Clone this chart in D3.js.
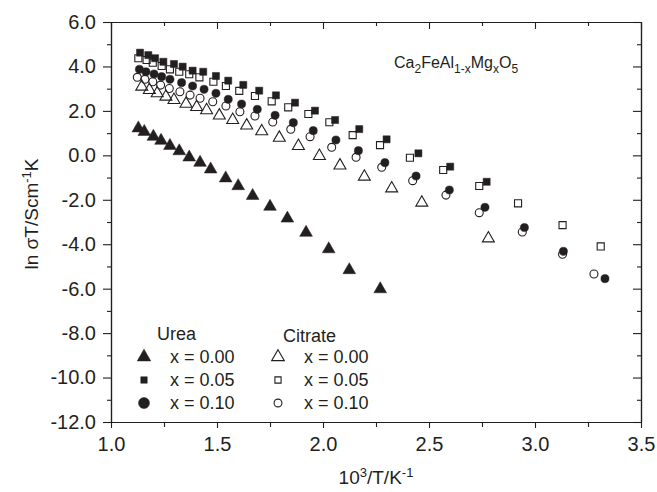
<!DOCTYPE html>
<html lang="en">
<head>
<meta charset="utf-8">
<script src="https://cdn.jsdelivr.net/npm/d3@7/dist/d3.min.js"></script>
<style>
  body { margin: 0; background: #fff; }
  text { font-family: "Liberation Sans", Arial, sans-serif; fill: #231f20; }
</style>
</head>
<body>
<div id="chart"></div>
<script>
// ---- data ----
var urea00_x = [1.129, 1.157, 1.200, 1.236, 1.278, 1.322, 1.369, 1.420, 1.470, 1.541, 1.600, 1.668, 1.750, 1.832, 1.920, 2.027, 2.124, 2.270];
var urea00_y = [1.22, 1.06, 0.84, 0.66, 0.43, 0.19, -0.09, -0.33, -0.63, -1.03, -1.38, -1.82, -2.31, -2.84, -3.48, -4.22, -5.16, -6.02];

var urea05_x = [1.137, 1.176, 1.208, 1.247, 1.297, 1.338, 1.385, 1.435, 1.495, 1.553, 1.624, 1.699, 1.778, 1.868, 1.962, 2.057, 2.171, 2.300, 2.450, 2.600, 2.772];
var urea05_y = [4.62, 4.51, 4.37, 4.21, 4.11, 3.99, 3.81, 3.76, 3.57, 3.36, 3.17, 2.91, 2.70, 2.37, 2.01, 1.59, 1.18, 0.72, 0.09, -0.51, -1.19];

var urea10_x = [1.134, 1.165, 1.203, 1.239, 1.278, 1.333, 1.385, 1.439, 1.495, 1.553, 1.616, 1.690, 1.774, 1.860, 1.954, 2.061, 2.167, 2.292, 2.439, 2.596, 2.764, 2.950, 3.134, 3.330];
var urea10_y = [3.87, 3.76, 3.66, 3.54, 3.42, 3.27, 3.12, 2.97, 2.79, 2.52, 2.31, 2.07, 1.80, 1.47, 1.11, 0.69, 0.21, -0.33, -0.93, -1.56, -2.34, -3.25, -4.32, -5.55];

var cit00_x = [1.145, 1.181, 1.218, 1.259, 1.297, 1.354, 1.404, 1.451, 1.511, 1.574, 1.640, 1.711, 1.794, 1.884, 1.983, 2.080, 2.195, 2.324, 2.466, 2.780];
var cit00_y = [3.09, 2.94, 2.79, 2.64, 2.49, 2.32, 2.17, 2.03, 1.79, 1.59, 1.34, 1.08, 0.79, 0.42, -0.03, -0.46, -0.96, -1.49, -2.13, -3.74];

var cit05_x = [1.129, 1.168, 1.197, 1.239, 1.278, 1.322, 1.369, 1.417, 1.483, 1.542, 1.605, 1.679, 1.758, 1.836, 1.931, 2.030, 2.140, 2.269, 2.410, 2.567, 2.737, 2.920, 3.130, 3.310];
var cit05_y = [4.37, 4.29, 4.17, 4.02, 3.87, 3.76, 3.65, 3.51, 3.31, 3.12, 2.90, 2.67, 2.43, 2.16, 1.86, 1.49, 0.91, 0.46, -0.11, -0.66, -1.38, -2.16, -3.14, -4.10];

var cit10_x = [1.124, 1.160, 1.197, 1.234, 1.275, 1.325, 1.373, 1.420, 1.480, 1.542, 1.608, 1.679, 1.763, 1.848, 1.939, 2.041, 2.156, 2.277, 2.423, 2.580, 2.737, 2.940, 3.130, 3.278];
var cit10_y = [3.51, 3.42, 3.31, 3.16, 3.01, 2.86, 2.71, 2.57, 2.41, 2.22, 1.96, 1.77, 1.50, 1.17, 0.84, 0.36, -0.09, -0.54, -1.14, -1.79, -2.58, -3.45, -4.45, -5.34];

var xTicks = [1.0, 1.5, 2.0, 2.5, 3.0, 3.5];
var yTicks = [6, 4, 2, 0, -2, -4, -6, -8, -10, -12];
var legendLabels = ["x = 0.00", "x = 0.05", "x = 0.10"];
var legendGroups = ["Urea", "Citrate"];

// ---- layout ----
var W = 657, H = 492;
var margin = {top: 22, right: 16, bottom: 70, left: 111},
    width = W - margin.left - margin.right,
    height = H - margin.top - margin.bottom;
var ink = "#231f20";

var svg = d3.select("#chart").append("svg")
    .attr("width", W)
    .attr("height", H);

var g = svg.append("g")
    .attr("transform", `translate(${margin.left},${margin.top})`);

var x = d3.scaleLinear().domain([1.0, 3.5]).range([0, width]);
var y = d3.scaleLinear().domain([-12, 6]).range([height, 0]);

var fmt = function(d){ return d.toFixed(1); };

// minor ticks first, then major axes
var xMinor = d3.range(1.25, 3.5, 0.5);
var yMinor = d3.range(-11, 6, 2);

function styleAxis(sel){
  sel.selectAll(".domain").attr("stroke", ink).attr("stroke-width", 1.2);
  sel.selectAll(".tick line").attr("stroke", ink).attr("stroke-width", 1.1);
  sel.selectAll(".tick text")
     .style("font-size", "20px")
     .attr("fill", ink);
}

// bottom
g.append("g").attr("transform", `translate(0,${height})`)
  .call(d3.axisBottom(x).tickValues(xMinor).tickSize(5).tickFormat("").tickSizeOuter(0))
  .call(styleAxis);
g.append("g").attr("transform", `translate(0,${height})`)
  .call(d3.axisBottom(x).tickValues(xTicks).tickSize(6).tickPadding(9).tickFormat(fmt).tickSizeOuter(0))
  .call(styleAxis);
// top (inward)
g.append("g")
  .call(d3.axisBottom(x).tickValues(xMinor).tickSize(4).tickFormat("").tickSizeOuter(0))
  .call(styleAxis);
g.append("g")
  .call(d3.axisBottom(x).tickValues(xTicks).tickSize(7).tickFormat("").tickSizeOuter(0))
  .call(styleAxis);
// left
g.append("g")
  .call(d3.axisLeft(y).tickValues(yMinor).tickSize(4).tickFormat("").tickSizeOuter(0))
  .call(styleAxis);
g.append("g")
  .call(d3.axisLeft(y).tickValues(yTicks).tickSize(8).tickPadding(7).tickFormat(fmt).tickSizeOuter(0))
  .call(styleAxis);
// right (inward)
g.append("g").attr("transform", `translate(${width},0)`)
  .call(d3.axisLeft(y).tickValues(yMinor).tickSize(4).tickFormat("").tickSizeOuter(0))
  .call(styleAxis);
g.append("g").attr("transform", `translate(${width},0)`)
  .call(d3.axisLeft(y).tickValues(yTicks).tickSize(8).tickFormat("").tickSizeOuter(0))
  .call(styleAxis);

// ---- series ----
var series = [
  {name: "cit00", xs: cit00_x, ys: cit00_y, shape: d3.symbolTriangle, size: 62, filled: false},
  {name: "cit05", xs: cit05_x, ys: cit05_y, shape: d3.symbolSquare, size: 50, filled: false},
  {name: "cit10", xs: cit10_x, ys: cit10_y, shape: d3.symbolCircle, size: 50, filled: false},
  {name: "urea00", xs: urea00_x, ys: urea00_y, shape: d3.symbolTriangle, size: 70, filled: true},
  {name: "urea05", xs: urea05_x, ys: urea05_y, shape: d3.symbolSquare, size: 50, filled: true},
  {name: "urea10", xs: urea10_x, ys: urea10_y, shape: d3.symbolCircle, size: 52, filled: true}
];

series.forEach(function(s){
  var pts = s.xs.map(function(v, i){ return [v, s.ys[i]]; });
  g.append("g").attr("class", s.name)
    .selectAll("path")
    .data(pts)
    .enter()
    .append("path")
    .attr("transform", function(d){ return `translate(${x(d[0])},${y(d[1])})`; })
    .attr("d", d3.symbol().type(s.shape).size(s.size))
    .attr("fill", s.filled ? ink : "none")
    .attr("stroke", ink)
    .attr("stroke-width", s.filled ? 0.5 : 1.1);
});

// ---- legend ----
var legendSeries = [
  [series[3], series[4], series[5]],
  [series[0], series[1], series[2]]
];
var legMarkX = [144, 278], legTextX = [170, 304], legHeadX = [157, 283];
var legRowY = [357, 380, 403];
var legSizes = [[80, 42, 95], [70, 38, 48]];

legendGroups.forEach(function(name, c){
  svg.append("text")
    .attr("x", legHeadX[c])
    .attr("y", 340 + c * 2)
    .style("font-size", "18px")
    .text(name);
  legendLabels.forEach(function(lab, r){
    var s = legendSeries[c][r];
    svg.append("path")
      .attr("transform", `translate(${legMarkX[c]},${legRowY[r]})`)
      .attr("d", d3.symbol().type(s.shape).size(legSizes[c][r]))
      .attr("fill", s.filled ? ink : "none")
      .attr("stroke", ink)
      .attr("stroke-width", s.filled ? 0.5 : 1.1);
    svg.append("text")
      .attr("x", legTextX[c])
      .attr("y", legRowY[r] + 6)
      .style("font-size", "18px")
      .text(lab);
  });
});

// ---- formula ----
var formula = svg.append("text").attr("x", 394).attr("y", 68).style("font-size", "16px");
[["Ca", 0], ["2", 1], ["FeAl", 0], ["1-x", 1], ["Mg", 0], ["x", 1], ["O", 0], ["5", 1]].forEach(function(p, i, arr){
  var prev = i > 0 ? arr[i-1][1] : 0;
  var dy = (p[1] - prev) * 5;
  formula.append("tspan")
    .attr("dy", dy)
    .style("font-size", p[1] ? "12px" : "16px")
    .text(p[0]);
});

// ---- axis titles ----
var xt = svg.append("text")
  .attr("x", margin.left + width / 2)
  .attr("y", 484)
  .attr("text-anchor", "middle")
  .style("font-size", "19px");
xt.append("tspan").text("10");
xt.append("tspan").attr("dy", -7).style("font-size", "13px").text("3");
xt.append("tspan").attr("dy", 7).text("/T/K");
xt.append("tspan").attr("dy", -7).style("font-size", "13px").text("-1");

var yt = svg.append("text")
  .attr("transform", `translate(38,${margin.top + height / 2 - 8}) rotate(-90)`)
  .attr("text-anchor", "middle")
  .style("font-size", "19px");
yt.append("tspan").text("ln \u03c3T/Scm");
yt.append("tspan").attr("dy", -7).style("font-size", "13px").text("-1");
yt.append("tspan").attr("dy", 7).text("K");
</script>
</body>
</html>
